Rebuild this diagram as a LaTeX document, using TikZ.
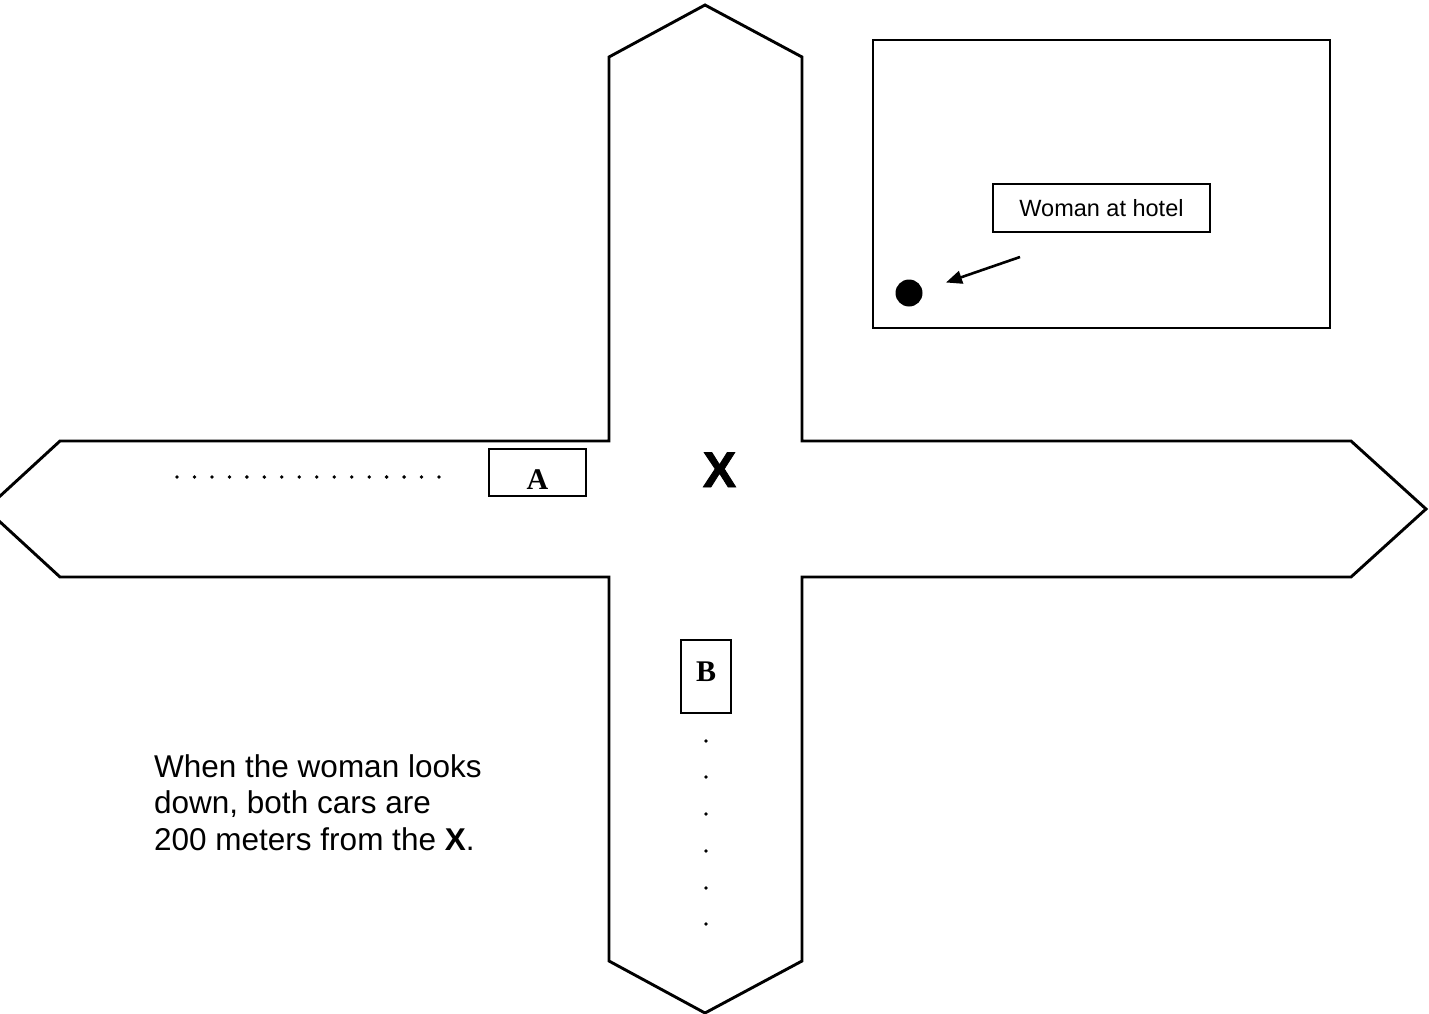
\documentclass[tikz,border=0pt]{standalone}
\usepackage{fontspec}
\setmainfont{Liberation Sans}
\newfontfamily\serifbf{Liberation Serif}
\newfontfamily\heavysans[FakeBold=1.6]{Liberation Sans Bold}
\usetikzlibrary{arrows.meta}
\tikzset{
  road/.style={draw=black, line width=2.9pt, line join=miter},
  carbox/.style={draw=black, line width=2.6pt, inner xsep=0pt, inner ysep=0pt, font=\serifbf\bfseries\fontsize{30}{32}\selectfont},
  hotelbox/.style={draw=black, line width=2.6pt},
  labelbox/.style={draw=black, line width=2.2pt, minimum width=217pt, minimum height=48pt, inner sep=0pt, font=\fontsize{23.5}{27}\selectfont},
  roaddot/.style={fill=black, circle, inner sep=0pt, minimum size=3.8pt},
  womandot/.style={fill=black, circle, inner sep=0pt, minimum size=27pt},
  pointer/.style={line width=2.6pt, -{Triangle[length=16pt,width=13pt]}},
  note/.style={align=left, inner sep=0pt, font=\fontsize{31.5}{36.8}\selectfont},
  bigx/.style={inner sep=0pt, font=\heavysans\fontsize{50}{52}\selectfont}
}
\begin{document}
\begin{tikzpicture}[x=1pt,y=-1pt]
\useasboundingbox (0,0) rectangle (1429,1014);
\clip (0,0) rectangle (1429,1014);
% road cross
\draw[road] (609,441) -- (609,57) -- (705,5) -- (802,57) -- (802,441) -- (1351,441)
  -- (1426,509) -- (1351,577) -- (802,577) -- (802,961) -- (705,1013) -- (609,961)
  -- (609,577) -- (60,577) -- (-14,509) -- (60,441) -- cycle;
% intersection mark
\node[bigx, anchor=base] (xmark) at (719.5,487) {X};
% car A
\node[carbox, minimum width=97pt, text height=40pt, text depth=7pt] (carA) at (537.5,472.5) {A};
\foreach \i in {0,...,15} {
  \node[roaddot] (adot\i) at ({177+\i*17.47},477) {};
}
% car B
\node[carbox, minimum width=50pt, text height=41pt, text depth=32pt] (carB) at (706,676.5) {B};
\foreach \i/\y in {0/741,1/777,2/814,3/851,4/888,5/924} {
  \node[roaddot] (bdot\i) at (706,\y) {};
}
% hotel
\node[hotelbox, minimum width=457pt, minimum height=288pt, inner sep=0pt] (hotel) at (1101.5,184) {};
\node[labelbox] (label) at (1101.5,208) {Woman at hotel};
\node[womandot] (woman) at (909,293) {};
\coordinate (arrowstart) at (1020,257);
\coordinate (arrowend) at (946,282.5);
\draw[pointer] (arrowstart) -- (arrowend);
% note
\node[note, anchor=base west] (note) at (154,850.6) {When the woman looks\\down, both cars are\\200 meters from the \textbf{X}.};
\end{tikzpicture}
\end{document}
